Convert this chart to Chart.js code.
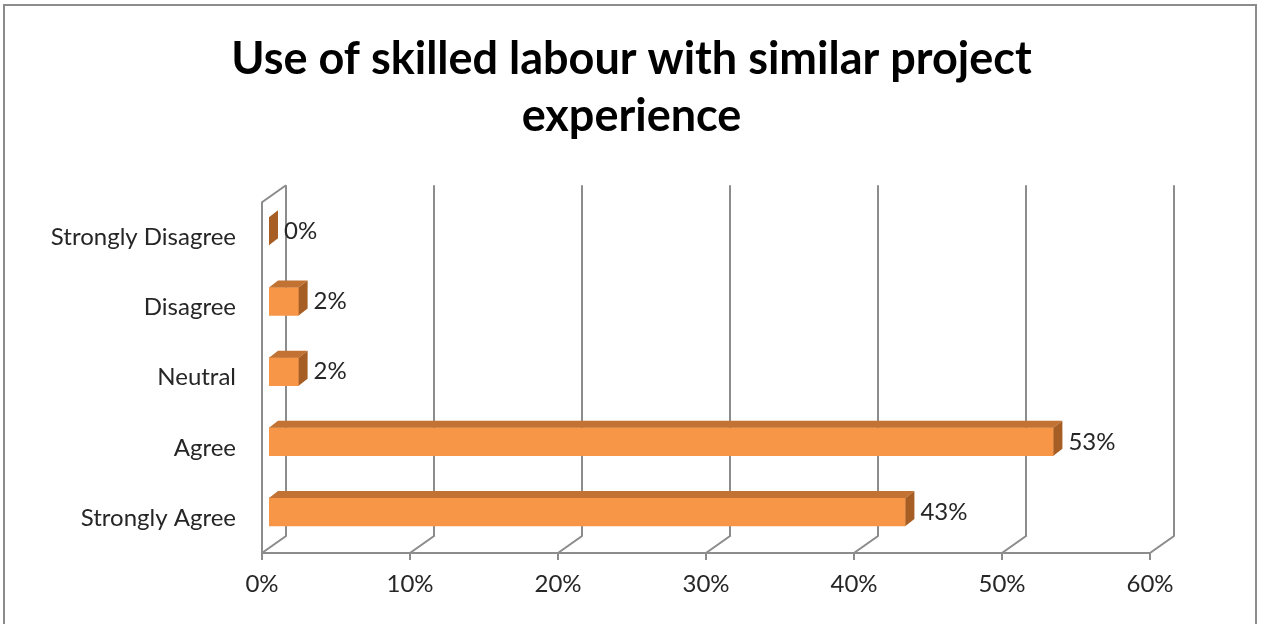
<!DOCTYPE html>
<html lang="en">
<head>
<meta charset="UTF-8" />
<title>Use of skilled labour with similar project experience</title>
<script src="https://cdn.jsdelivr.net/npm/chart.js@4.4.0/dist/chart.umd.min.js"></script>
<style>
  html, body { margin: 0; padding: 0; background: #fff; overflow: hidden; }
  #wrap { position: relative; width: 1263px; height: 624px; }
  #frame { position: absolute; left: 3px; top: 4px; width: 1254px; height: 640px;
           border: 2px solid #8c8c8c; box-sizing: border-box; pointer-events: none; }
</style>
</head>
<body>
<div id="wrap">
  <canvas id="surveyChart" width="1263" height="624"></canvas>
  <div id="frame"></div>
</div>
<script>
const categories = ['Strongly Disagree', 'Disagree', 'Neutral', 'Agree', 'Strongly Agree'];
const percentages = [0, 2, 2, 53, 43];
const axisTicks = [0, 10, 20, 30, 40, 50, 60];

// fake 3D: depth of floor/back wall, and where the bars sit inside it
const WALL = { dx: 24, dy: -17 };
const BAR_FRONT = { dx: 7, dy: -6 };
const BAR_DEPTH = { dx: 9, dy: -7 };

const font = "Lato, 'Liberation Sans', sans-serif";
const textColor = '#262626';

const box3d = {
  id: 'box3d',
  beforeDatasetsDraw(chart) {
    const { ctx, chartArea: a, scales: { x } } = chart;
    ctx.save();
    ctx.strokeStyle = '#8c8c8c';
    ctx.lineWidth = 2;
    ctx.beginPath();
    // left wall
    ctx.moveTo(a.left, a.bottom);
    ctx.lineTo(a.left, a.top);
    ctx.lineTo(a.left + WALL.dx, a.top + WALL.dy);
    // front edge of the floor
    ctx.moveTo(a.left, a.bottom);
    ctx.lineTo(a.right, a.bottom);
    // tick marks, floor lines and back wall gridlines
    axisTicks.forEach(v => {
      const px = x.getPixelForValue(v);
      ctx.moveTo(px, a.bottom + 7);
      ctx.lineTo(px, a.bottom);
      ctx.lineTo(px + WALL.dx, a.bottom + WALL.dy);
      ctx.lineTo(px + WALL.dx, a.top + WALL.dy);
    });
    ctx.stroke();
    ctx.restore();

    // bars are pushed back into the box
    ctx.save();
    ctx.translate(BAR_FRONT.dx, BAR_FRONT.dy);
  },
  afterDatasetsDraw(chart) {
    const { ctx } = chart;
    const meta = chart.getDatasetMeta(0);
    meta.data.forEach((bar, i) => {
      const { x, y, base, height } = bar.getProps(['x', 'y', 'base', 'height'], true);
      const top = y - height / 2, bottom = y + height / 2;

      ctx.fillStyle = '#c27232';
      ctx.beginPath();
      ctx.moveTo(base, top);
      ctx.lineTo(x, top);
      ctx.lineTo(x + BAR_DEPTH.dx, top + BAR_DEPTH.dy);
      ctx.lineTo(base + BAR_DEPTH.dx, top + BAR_DEPTH.dy);
      ctx.closePath();
      ctx.fill();

      ctx.fillStyle = '#a65e24';
      ctx.beginPath();
      ctx.moveTo(x, top);
      ctx.lineTo(x + BAR_DEPTH.dx, top + BAR_DEPTH.dy);
      ctx.lineTo(x + BAR_DEPTH.dx, bottom + BAR_DEPTH.dy);
      ctx.lineTo(x, bottom);
      ctx.closePath();
      ctx.fill();

      ctx.fillStyle = textColor;
      ctx.font = '24px ' + font;
      ctx.textBaseline = 'middle';
      ctx.textAlign = 'left';
      ctx.fillText(percentages[i] + '%', x + BAR_DEPTH.dx + 6, y);
    });
    ctx.restore();
  }
};

new Chart(document.getElementById('surveyChart'), {
  type: 'bar',
  data: {
    labels: categories,
    datasets: [{
      data: percentages,
      backgroundColor: '#f79646',
      borderWidth: 0,
      barThickness: 28
    }]
  },
  plugins: [box3d],
  options: {
    indexAxis: 'y',
    responsive: false,
    animation: false,
    layout: { padding: 0 },
    plugins: {
      legend: { display: false },
      tooltip: { enabled: false },
      title: {
        display: true,
        text: ['Use of skilled labour with similar project', 'experience'],
        color: '#000',
        font: { family: font, size: 45, weight: 'bold', lineHeight: 1.27 },
        padding: { top: 31, bottom: 57 }
      }
    },
    scales: {
      x: {
        min: 0,
        max: 60,
        grid: { display: false, drawTicks: false },
        border: { display: false },
        afterFit: s => { s.height = 71; },
        afterBuildTicks: s => { s.ticks = axisTicks.map(v => ({ value: v })); },
        ticks: {
          padding: 17,
          color: textColor,
          font: { family: font, size: 24 },
          callback: v => v + '%'
        }
      },
      y: {
        grid: { display: false, drawTicks: false },
        border: { display: false },
        afterFit: s => { s.width = 262; },
        ticks: {
          padding: 26,
          color: textColor,
          font: { family: font, size: 24 }
        }
      },
      // empty strip on the right, room for the back wall and the 60% label
      yRight: {
        type: 'category',
        position: 'right',
        grid: { display: false, drawTicks: false },
        border: { display: false },
        ticks: { display: false },
        afterFit: s => { s.width = 113; }
      }
    }
  }
});
</script>
</body>
</html>
